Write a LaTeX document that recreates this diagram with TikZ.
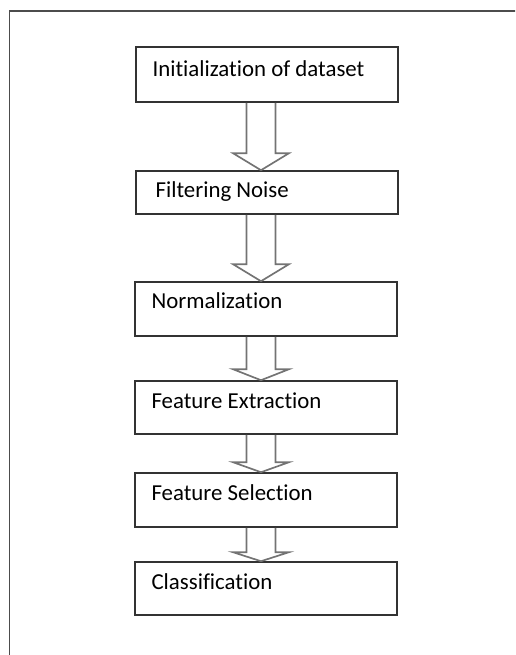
\documentclass[tikz,border=0pt]{standalone}
\usepackage{fontspec}
\setmainfont[Ligatures=NoCommon]{Carlito}
\usetikzlibrary{calc}

\begin{document}
\begin{tikzpicture}[
  font=\fontsize{13}{15}\selectfont,
  stage/.style={draw=black!80,line width=0.9pt,minimum width=5.24cm,minimum height=1.06cm,inner sep=0pt},
  caption/.style={anchor=base west,inner sep=0pt},
  hollow/.style={draw=black!55,line width=0.95pt,line join=miter}
]
  \useasboundingbox (0,0) rectangle (10.3,13.1);
  \clip (0,0) rectangle (10.3,13.1);
  \draw[black!70,line width=1pt] (0.19,-1) rectangle (11,12.88);

  \node[stage,minimum height=1.1cm] (init) at (5.34,11.61) {};
  \node[stage,minimum height=0.86cm] (filt) at (5.34,9.25) {};
  \node[stage,minimum height=1.08cm] (norm) at (5.32,6.92) {};
  \node[stage] (fext) at (5.32,4.95) {};
  \node[stage,minimum height=1.08cm] (fsel) at (5.32,3.10) {};
  \node[stage] (clas) at (5.32,1.33) {};

  \node[caption] (initT) at ($(init.north west)+(0.34,-0.6)$) {Initialization of dataset};
  \node[caption] (filtT) at ($(filt.north west)+(0.4,-0.54)$) {Filtering Noise};
  \node[caption] (normT) at ($(norm.north west)+(0.34,-0.55)$) {Normalization};
  \node[caption] (fextT) at ($(fext.north west)+(0.34,-0.56)$) {Feature Extraction};
  \node[caption] (fselT) at ($(fsel.north west)+(0.34,-0.56)$) {Feature Selection};
  \node[caption] (clasT) at ($(clas.north west)+(0.34,-0.56)$) {Classification};

  \coordinate (ax) at (5.22,0);
  \draw[hollow] ($(init.south -| ax)+(-0.29,0)$) -- ($(filt.north -| ax)+(-0.29,0.34)$) -- ++(-0.27,0)
    -- (filt.north -| ax) -- ($(filt.north -| ax)+(0.56,0.34)$) -- ++(-0.27,0) -- ($(init.south -| ax)+(0.29,0)$);
  \draw[hollow] ($(filt.south -| ax)+(-0.29,0)$) -- ($(norm.north -| ax)+(-0.29,0.34)$) -- ++(-0.27,0)
    -- (norm.north -| ax) -- ($(norm.north -| ax)+(0.56,0.34)$) -- ++(-0.27,0) -- ($(filt.south -| ax)+(0.29,0)$);
  \draw[hollow] ($(norm.south -| ax)+(-0.29,0)$) -- ($(fext.north -| ax)+(-0.29,0.22)$) -- ++(-0.27,0)
    -- (fext.north -| ax) -- ($(fext.north -| ax)+(0.56,0.22)$) -- ++(-0.27,0) -- ($(norm.south -| ax)+(0.29,0)$);
  \draw[hollow] ($(fext.south -| ax)+(-0.29,0)$) -- ($(fsel.north -| ax)+(-0.29,0.2)$) -- ++(-0.27,0)
    -- (fsel.north -| ax) -- ($(fsel.north -| ax)+(0.56,0.2)$) -- ++(-0.27,0) -- ($(fext.south -| ax)+(0.29,0)$);
  \draw[hollow] ($(fsel.south -| ax)+(-0.29,0)$) -- ($(clas.north -| ax)+(-0.29,0.18)$) -- ++(-0.27,0)
    -- (clas.north -| ax) -- ($(clas.north -| ax)+(0.56,0.18)$) -- ++(-0.27,0) -- ($(fsel.south -| ax)+(0.29,0)$);
\end{tikzpicture}
\end{document}
